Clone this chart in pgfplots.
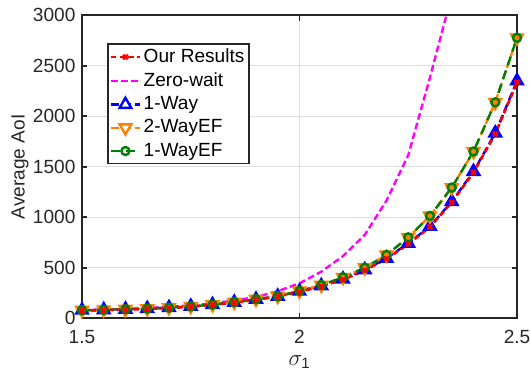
\documentclass[border=0pt]{standalone}
\usepackage{pgfplots}
\pgfplotsset{compat=1.18}
\usepackage{fontspec}
\setmainfont{Liberation Sans}
\definecolor{axgray}{HTML}{262626}
\definecolor{gridgray}{HTML}{DFDFDF}
\definecolor{morange}{rgb}{1,0.5,0}
\definecolor{mgreen}{rgb}{0,0.5,0}
\definecolor{mmagenta}{rgb}{1,0,1}
\definecolor{mred}{rgb}{1,0,0}
\definecolor{mblue}{rgb}{0,0,1}

\pgfplotstableread{
x y
1.50 76
1.55 80
1.60 86
1.65 93
1.70 102
1.75 115
1.80 132
1.85 155
1.90 184
1.95 216
2.00 262
2.05 317
2.10 383
2.15 475
2.20 588
2.25 735
2.30 905
2.35 1148
2.40 1445
2.45 1825
2.50 2335
}\ourres

\pgfplotstableread{
x y
1.50 80
1.55 85
1.60 92
1.65 101
1.70 113
1.75 128
1.80 148
1.85 175
1.90 210
1.95 268
2.00 346
2.05 461
2.10 615
2.15 825
2.20 1165
2.25 1615
2.30 2385
2.35 3200
}\zerowait

\pgfplotstableread{
x y
1.50 80
1.55 84
1.60 89
1.65 96
1.70 105
1.75 118
1.80 135
1.85 158
1.90 188
1.95 218
2.00 268
2.05 322
2.10 388
2.15 480
2.20 594
2.25 742
2.30 910
2.35 1155
2.40 1453
2.45 1834
2.50 2350
}\oneway

\pgfplotstableread{
x y
1.50 80
1.55 84
1.60 89
1.65 96
1.70 105
1.75 118
1.80 135
1.85 160
1.90 188
1.95 218
2.00 270
2.05 328
2.10 405
2.15 500
2.20 627
2.25 801
2.30 1013
2.35 1294
2.40 1651
2.45 2138
2.50 2777
}\twowayef

\pgfplotstableread{
x y
1.50 80
1.55 84
1.60 89
1.65 96
1.70 105
1.75 118
1.80 135
1.85 160
1.90 188
1.95 218
2.00 270
2.05 328
2.10 405
2.15 500
2.20 627
2.25 801
2.30 1013
2.35 1294
2.40 1651
2.45 2138
2.50 2777
}\onewayef

\begin{document}
\fontsize{14.3pt}{17pt}\selectfont
\begin{tikzpicture}
\begin{axis}[
  scale only axis, width=326.25pt, height=227.25pt,
  xmin=1.5, xmax=2.5, ymin=0, ymax=3000,
  xtick={1.5,2,2.5}, xticklabels={1.5,2,2.5},
  ytick={0,500,...,3000},
  /pgf/number format/assume math mode=true,
  /pgf/number format/1000 sep={},
  grid=major, major grid style={gridgray, line width=1pt},
  axis line style={axgray, line width=1.2pt},
  tick style={axgray, line width=1.2pt},
  major tick length=4pt,
  tick label style={font=\fontsize{14.3pt}{17pt}\selectfont, text=axgray},
  xticklabel style={yshift=-4pt},
  label style={font=\fontsize{14.3pt}{17pt}\selectfont, text=axgray},
  xlabel={$\sigma_{\mathrm{1}}$},
  xlabel style={font=\fontsize{16pt}{18pt}\selectfont, yshift=1pt},
  ylabel={Average AoI},
  ylabel style={yshift=-6.5pt},
  legend cell align=left,
  legend style={at={(0.0575,0.9076)}, anchor=north west, draw=axgray,
    line width=1.2pt, font=\fontsize{14.3pt}{17pt}\selectfont,
    inner sep=1.5pt, row sep=1.4pt},
  legend image code/.code={\draw[mark repeat=2,mark phase=2] plot coordinates {(0cm,0cm)(0.38cm,0cm)(0.76cm,0cm)};},
]
\addplot[mred, line width=1.8pt, dash pattern=on 4pt off 2.5pt, mark=x, mark size=2.5pt, mark options={solid}] table {\ourres};
\addlegendentry{Our Results}
\addplot[mmagenta, line width=1.8pt, dash pattern=on 5pt off 2.5pt] table {\zerowait};
\addlegendentry{Zero-wait}
\addplot[mblue, line width=1.8pt, dash pattern=on 6pt off 3pt, mark=triangle*, mark size=5pt, mark options={solid, fill=mblue},
  legend image post style={mark options={solid, fill=white}}] table {\oneway};
\addlegendentry{1-Way}
\addplot[morange, line width=1.8pt, dash pattern=on 6pt off 3pt, mark=triangle*, mark size=5pt, mark options={solid, fill=morange, rotate=180},
  legend image post style={mark options={solid, fill=white, rotate=180}}] table {\twowayef};
\addlegendentry{2-WayEF}
\addplot[mgreen, line width=1.8pt, dash pattern=on 7pt off 4pt, mark=o, mark size=3pt, mark options={solid, fill=white}] table {\onewayef};
\addlegendentry{1-WayEF}
\addplot[forget plot, mred, line width=1.8pt, dash pattern=on 4pt off 2.5pt, mark=x, mark size=2.5pt, mark options={solid}] table {\ourres};
\end{axis}
\pgfresetboundingbox
\useasboundingbox ([xshift=-61.5pt,yshift=-40.3pt]current axis.south west) rectangle ++(398.25pt,279pt);
\end{tikzpicture}
\end{document}
